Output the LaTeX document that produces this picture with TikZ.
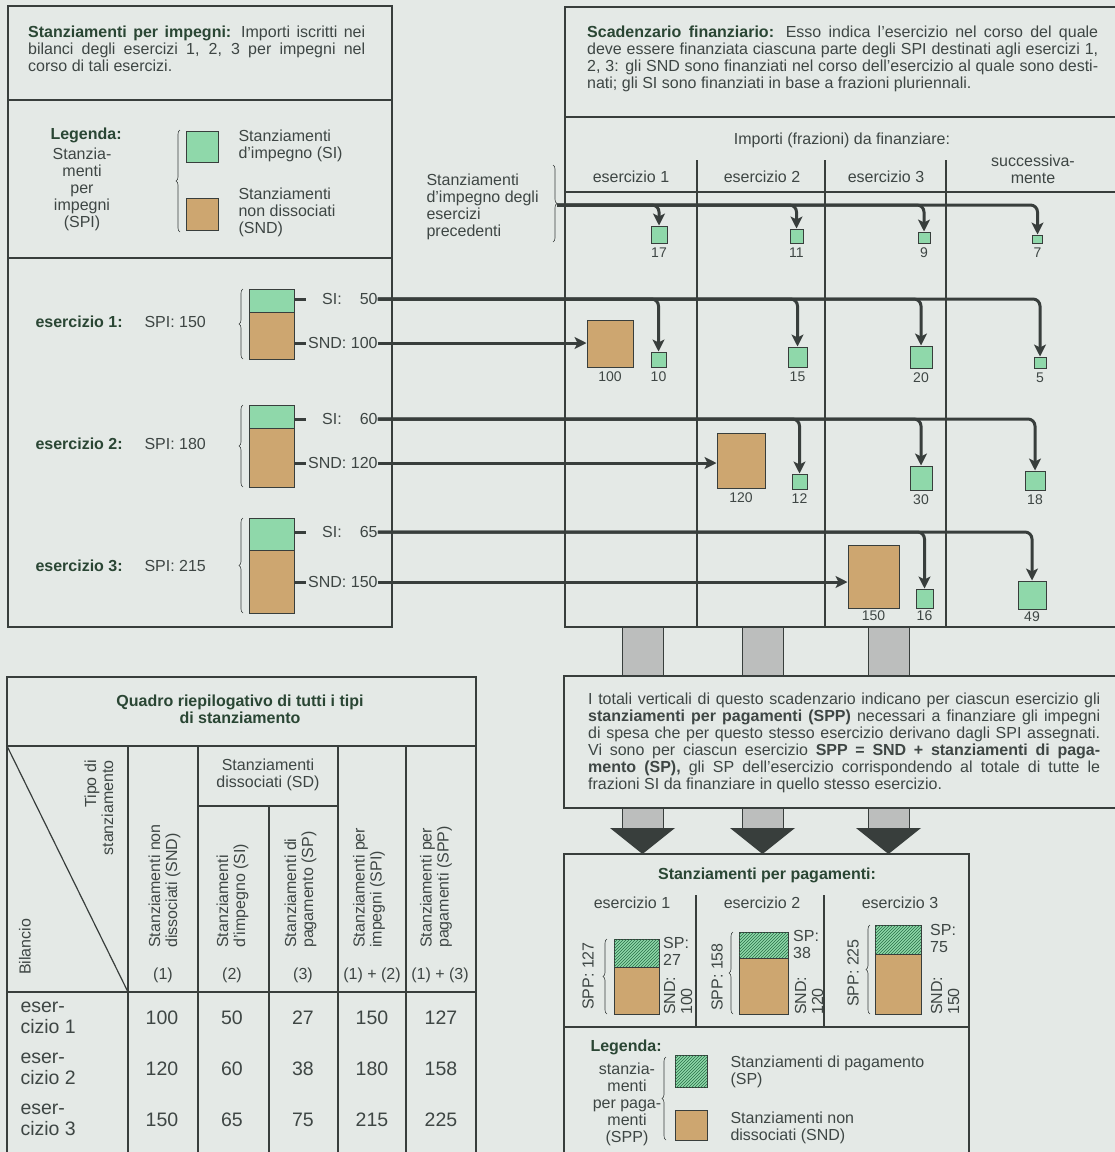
\documentclass[tikz,border=0pt]{standalone}
\usepackage{fontspec}
\setmainfont{Liberation Sans}
\usetikzlibrary{arrows.meta, positioning, decorations.pathreplacing, patterns}

\definecolor{paper}{RGB}{228,233,230}
\definecolor{ink}{RGB}{56,62,60}
\definecolor{txt}{RGB}{62,70,68}
\definecolor{headtxt}{RGB}{42,70,52}
\definecolor{sigreen}{RGB}{143,216,170}
\definecolor{sndtan}{RGB}{205,166,112}
\definecolor{hatch}{RGB}{40,110,70}
\definecolor{bargrey}{RGB}{188,190,189}

\newcommand{\jline}[2]{\makebox[#1][s]{#2}}

\begin{document}
\begin{tikzpicture}[
    x = 1pt, y = -1pt,
    every node/.style = {text = txt, font = \fontsize{16}{17}\selectfont},
    panel/.style = {draw = ink, line width = 1.2pt},
    heavy/.style = {draw = ink, line width = 2.6pt},
    siblock/.style = {draw = ink, line width = 1pt, fill = sigreen, inner sep = 0pt},
    sndblock/.style = {draw = ink, line width = 1pt, fill = sndtan, inner sep = 0pt},
    spblock/.style = {siblock,
      postaction = {pattern = north east lines, pattern color = hatch}},
    flow/.style = {draw = ink, line width = 3pt, rounded corners = 7pt,
      -{Stealth[length = 12pt, width = 12pt, inset = 3pt]}},
    stub/.style = {draw = ink, line width = 3pt},
    brace/.style = {draw = ink, line width = 0.6pt, decorate,
      decoration = {brace, amplitude = 4pt}},
    bar/.style = {draw = ink, line width = 1pt, fill = bargrey},
    head/.style = {text = headtxt, font = \bfseries\fontsize{16}{17}\selectfont},
    amount/.style = {font = \fontsize{14}{15}\selectfont, inner sep = 1pt},
    big/.style = {font = \fontsize{19.5}{21}\selectfont},
    ]

    \useasboundingbox (0, 0) rectangle (1115, 1152);
    \fill [paper] (0, 0) rectangle (1115, 1152);

    % grey transfer bars
    \draw [bar] (622, 627) rectangle (663, 676);
    \draw [bar] (742, 627) rectangle (783, 676);
    \draw [bar] (868, 627) rectangle (909, 676);
    \draw [bar] (622, 808) rectangle (663, 828);
    \draw [bar] (742, 808) rectangle (783, 828);
    \draw [bar] (868, 808) rectangle (909, 828);
    \fill [ink] (610, 828) -- (675, 828) -- (642.5, 854) -- cycle;
    \fill [ink] (730, 828) -- (795, 828) -- (762.5, 854) -- cycle;
    \fill [ink] (856, 828) -- (921, 828) -- (888.5, 854) -- cycle;

    % panels
    \draw [panel] (8, 6) rectangle (392, 627);
    \draw [panel] (8, 100) -- (392, 100);
    \draw [panel] (8, 258) -- (392, 258);

    \draw [panel] (1125, 7) -- (565, 7) -- (565, 627) -- (1125, 627);
    \draw [panel] (565, 117) -- (1125, 117);
    \draw [panel] (565, 192) -- (1125, 192);
    \draw [panel] (697, 160) -- (697, 627);
    \draw [panel] (825, 160) -- (825, 627);
    \draw [panel] (946, 160) -- (946, 627);

    \draw [panel] (1125, 676) -- (564, 676) -- (564, 808) -- (1125, 808);

    \draw [panel] (564, 1160) -- (564, 854) -- (969, 854) -- (969, 1160);
    \draw [panel] (564, 1027) -- (969, 1027);
    \draw [panel] (696, 895) -- (696, 1027);
    \draw [panel] (824, 895) -- (824, 1027);

    \draw [panel] (7, 1160) -- (7, 677) -- (476, 677) -- (476, 1160);
    \draw [heavy] (7, 746) -- (476, 746);
    \draw [heavy] (7, 992) -- (476, 992);
    \draw [heavy] (128, 746) -- (128, 1160);
    \draw [panel] (198, 746) -- (198, 1160);
    \draw [panel] (338, 746) -- (338, 1160);
    \draw [panel] (406, 746) -- (406, 1160);
    \draw [panel] (198, 806) -- (338, 806);
    \draw [panel] (269, 806) -- (269, 1160);
    \draw [panel] (7, 746) -- (128, 992);

    % top left: text and legend
    \node at (28, 26) [anchor = north west, align = left, inner sep = 0pt, name = spitext]
    {\jline{337pt}{\textcolor{headtxt}{\textbf{Stanziamenti per impegni:}} Importi iscritti nei}\\
      \jline{337pt}{bilanci degli esercizi 1, 2, 3 per impegni nel}\\
      corso di tali esercizi.};

    \node at (47, 135) [anchor = west, head, name = legspi] {Legenda:};
    \node at (82, 189) [align = center, name = spiname]
    {Stanzia-\\menti\\per\\impegni\\(SPI)};
    \draw [brace] (180, 232) -- (180, 130);
    \node at (202, 146.5) [siblock, minimum width = 32pt, minimum height = 31pt,
      name = keySI] {};
    \node at (202, 214) [sndblock, minimum width = 32pt, minimum height = 32pt,
      name = keySND] {};
    \node at (235, 146) [anchor = west, align = left] {Stanziamenti\\d'impegno (SI)};
    \node at (235, 212) [anchor = west, align = left]
    {Stanziamenti\\non dissociati\\(SND)};

    % budget years
    \node at (32, 322) [anchor = west, head, name = es1] {esercizio 1:};
    \node at (141, 322) [anchor = west, name = spi1] {SPI: 150};
    \node at (271.5, 300.5) [siblock, minimum width = 45pt, minimum height = 23pt,
      name = blSI1] {};
    \node at (271.5, 335.5) [sndblock, minimum width = 45pt, minimum height = 47pt,
      name = blSND1] {};
    \draw [brace] (243, 359) -- (243, 289);
    \node at (306, 299) [anchor = west, inner sep = 0pt, name = si1]
    {\hspace{16pt}SI:\hspace{18pt}50};
    \node at (306, 343) [anchor = west, inner sep = 0pt, name = snd1]
    {\hspace{2pt}SND: 100};

    \node at (32, 444) [anchor = west, head, name = es2] {esercizio 2:};
    \node at (141, 444) [anchor = west, name = spi2] {SPI: 180};
    \node at (271.5, 416.5) [siblock, minimum width = 45pt, minimum height = 23pt,
      name = blSI2] {};
    \node at (271.5, 457.5) [sndblock, minimum width = 45pt, minimum height = 59pt,
      name = blSND2] {};
    \draw [brace] (243, 487) -- (243, 405);
    \node at (306, 419) [anchor = west, inner sep = 0pt, name = si2]
    {\hspace{16pt}SI:\hspace{18pt}60};
    \node at (306, 463) [anchor = west, inner sep = 0pt, name = snd2]
    {\hspace{2pt}SND: 120};

    \node at (32, 566) [anchor = west, head, name = es3] {esercizio 3:};
    \node at (141, 566) [anchor = west, name = spi3] {SPI: 215};
    \node at (271.5, 534) [siblock, minimum width = 45pt, minimum height = 32pt,
      name = blSI3] {};
    \node at (271.5, 581.5) [sndblock, minimum width = 45pt, minimum height = 63pt,
      name = blSND3] {};
    \draw [brace] (243, 613) -- (243, 518);
    \node at (306, 532) [anchor = west, inner sep = 0pt, name = si3]
    {\hspace{16pt}SI:\hspace{18pt}65};
    \node at (306, 582) [anchor = west, inner sep = 0pt, name = snd3]
    {\hspace{2pt}SND: 150};

    \draw [stub] (blSI1.east |- si1.west) -- (si1.west);
    \draw [stub] (blSND1.east |- snd1.west) -- (snd1.west);
    \draw [stub] (blSI2.east |- si2.west) -- (si2.west);
    \draw [stub] (blSND2.east |- snd2.west) -- (snd2.west);
    \draw [stub] (blSI3.east |- si3.west) -- (si3.west);
    \draw [stub] (blSND3.east |- snd3.west) -- (snd3.west);

    % schedule
    \node at (587, 26) [anchor = north west, align = left, inner sep = 0pt,
      name = scadtext]
    {\jline{511pt}{\textcolor{headtxt}{\textbf{Scadenzario finanziario:}} Esso indica l'esercizio nel corso del quale}\\
      \jline{511pt}{deve essere finanziata ciascuna parte degli SPI destinati agli esercizi 1,}\\
      \jline{511pt}{2, 3: gli SND sono finanziati nel corso dell'esercizio al quale sono desti-}\\
      nati; gli SI sono finanziati in base a frazioni pluriennali.};

    \node at (842, 140) [name = importi] {Importi (frazioni) da finanziare:};
    \node at (631, 177) [name = col1] {esercizio 1};
    \node at (762, 177) [name = col2] {esercizio 2};
    \node at (886, 177) [name = col3] {esercizio 3};
    \node at (1033, 169) [align = center, name = col4] {successiva-\\mente};

    \node at (423, 207) [anchor = west, align = left, name = prevtext]
    {Stanziamenti\\d'impegno degli\\esercizi\\precedenti};
    \draw [brace] (553, 165) -- (553, 242);
    \coordinate (prev) at (557, 205);

    \node at (659, 234.5) [siblock, minimum width = 16pt, minimum height = 17pt,
      name = pr1] {};
    \node at (796.5, 236) [siblock, minimum width = 13pt, minimum height = 14pt,
      name = pr2] {};
    \node at (924, 237.5) [siblock, minimum width = 12pt, minimum height = 11pt,
      name = pr3] {};
    \node at (1037.5, 239) [siblock, minimum width = 10pt, minimum height = 8pt,
      name = pr4] {};
    \node [amount, below = 3pt of pr1] {17};
    \node [amount, below = 3pt of pr2] {11};
    \node [amount, below = 3pt of pr3] {9};
    \node [amount, below = 3pt of pr4] {7};

    \node at (610, 343.5) [sndblock, minimum width = 46pt, minimum height = 47pt,
      name = nd1] {};
    \node at (658.5, 359.5) [siblock, minimum size = 15pt, name = fr11] {};
    \node at (797.5, 357) [siblock, minimum width = 19pt, minimum height = 20pt,
      name = fr12] {};
    \node at (921, 357) [siblock, minimum size = 22pt, name = fr13] {};
    \node at (1040, 362.5) [siblock, minimum width = 12pt, minimum height = 11pt,
      name = fr14] {};
    \node [amount, below = 3pt of nd1] {100};
    \node [amount, below = 3pt of fr11] {10};
    \node [amount, below = 3pt of fr12] {15};
    \node [amount, below = 3pt of fr13] {20};
    \node [amount, below = 3pt of fr14] {5};

    \node at (741, 460.5) [sndblock, minimum width = 48pt, minimum height = 55pt,
      name = nd2] {};
    \node at (799.5, 481.5) [siblock, minimum size = 15pt, name = fr21] {};
    \node at (921, 478) [siblock, minimum width = 22pt, minimum height = 24pt,
      name = fr22] {};
    \node at (1035, 480.5) [siblock, minimum width = 20pt, minimum height = 19pt,
      name = fr23] {};
    \node [amount, below = 3pt of nd2] {120};
    \node [amount, below = 3pt of fr21] {12};
    \node [amount, below = 3pt of fr22] {30};
    \node [amount, below = 3pt of fr23] {18};

    \node at (873.5, 576.5) [sndblock, minimum width = 51pt, minimum height = 63pt,
      name = nd3] {};
    \node at (924.5, 598.5) [siblock, minimum width = 17pt, minimum height = 19pt,
      name = fr31] {};
    \node at (1032, 595) [siblock, minimum size = 28pt, name = fr32] {};
    \node [amount, below = 1pt of nd3] {150};
    \node [amount, below = 1pt of fr31] {16};
    \node [amount, below = 1pt of fr32] {49};

    \draw [flow] (prev) -| (pr1.north);
    \draw [flow] (prev) -| (pr2.north);
    \draw [flow] (prev) -| (pr3.north);
    \draw [flow] (prev) -| (pr4.north);

    \draw [flow] (si1.east) -| (fr11.north);
    \draw [flow] (si1.east) -| (fr12.north);
    \draw [flow] (si1.east) -| (fr13.north);
    \draw [flow] (si1.east) -| (fr14.north);
    \draw [flow] (snd1.east) -- (snd1.east -| nd1.west);

    \draw [flow] (si2.east) -| (fr21.north);
    \draw [flow] (si2.east) -| (fr22.north);
    \draw [flow] (si2.east) -| (fr23.north);
    \draw [flow] (snd2.east) -- (snd2.east -| nd2.west);

    \draw [flow] (si3.east) -| (fr31.north);
    \draw [flow] (si3.east) -| (fr32.north);
    \draw [flow] (snd3.east) -- (snd3.east -| nd3.west);

    % vertical totals
    \node at (588, 693) [anchor = north west, align = left, inner sep = 0pt,
      name = totaltext]
    {\jline{512pt}{I totali verticali di questo scadenzario indicano per ciascun esercizio gli}\\
      \jline{512pt}{\textbf{stanziamenti per pagamenti (SPP)} necessari a finanziare gli impegni}\\
      \jline{512pt}{di spesa che per questo stesso esercizio derivano dagli SPI assegnati.}\\
      \jline{512pt}{Vi sono per ciascun esercizio \textbf{SPP = SND + stanziamenti di paga-}}\\
      \jline{512pt}{\textbf{mento (SP),} gli SP dell'esercizio corrispondendo al totale di tutte le}\\
      frazioni SI da finanziare in quello stesso esercizio.};

    % payment appropriations
    \node at (767, 875) [head, name = pagtitle] {Stanziamenti per pagamenti:};
    \node at (632, 903) [name = pcol1] {esercizio 1};
    \node at (762, 903) [name = pcol2] {esercizio 2};
    \node at (900, 903) [name = pcol3] {esercizio 3};

    \node at (636.5, 953) [spblock, minimum width = 45pt, minimum height = 28pt,
      name = pSP1] {};
    \node at (636.5, 990.5) [sndblock, minimum width = 45pt, minimum height = 47pt,
      name = pSND1] {};
    \node at (763.5, 945) [spblock, minimum width = 49pt, minimum height = 26pt,
      name = pSP2] {};
    \node at (763.5, 986) [sndblock, minimum width = 49pt, minimum height = 56pt,
      name = pSND2] {};
    \node at (898, 939.5) [spblock, minimum width = 46pt, minimum height = 29pt,
      name = pSP3] {};
    \node at (898, 984) [sndblock, minimum width = 46pt, minimum height = 60pt,
      name = pSND3] {};

    \draw [brace] (607, 1014) -- (607, 939);
    \draw [brace] (733, 1014) -- (733, 932);
    \draw [brace] (870, 1014) -- (870, 925);
    \node at (588, 976) [rotate = 90] {SPP: 127};
    \node at (717, 977) [rotate = 90] {SPP: 158};
    \node at (853, 973) [rotate = 90] {SPP: 225};

    \node at (663, 937) [anchor = north west, align = left, inner sep = 0pt] {SP:\\27};
    \node at (793, 930) [anchor = north west, align = left, inner sep = 0pt] {SP:\\38};
    \node at (930, 924) [anchor = north west, align = left, inner sep = 0pt] {SP:\\75};
    \node at (678, 1015) [rotate = 90, anchor = west, align = left, inner sep = 0pt]
    {SND:\\100};
    \node at (809, 1015) [rotate = 90, anchor = west, align = left, inner sep = 0pt]
    {SND:\\120};
    \node at (945, 1015) [rotate = 90, anchor = west, align = left, inner sep = 0pt]
    {SND:\\150};

    \node at (587, 1047) [anchor = west, head, name = legspp] {Legenda:};
    \node at (627, 1104) [align = center, name = sppname]
    {stanzia-\\menti\\per paga-\\menti\\(SPP)};
    \draw [brace] (666, 1140) -- (666, 1057);
    \node at (691, 1071) [spblock, minimum size = 32pt, name = keySP] {};
    \node at (691, 1125) [sndblock, minimum width = 32pt, minimum height = 30pt,
      name = keySND2] {};
    \node at (727, 1072) [anchor = west, align = left]
    {Stanziamenti di pagamento\\(SP)};
    \node at (727, 1128) [anchor = west, align = left]
    {Stanziamenti non\\dissociati (SND)};

    % summary table
    \node at (240, 709) [head, align = center, name = quadro]
    {Quadro riepilogativo di tutti i tipi\\di stanziamento};
    \node at (268, 775) [align = center] {Stanziamenti\\dissociati (SD)};
    \node at (99, 760) [rotate = 90, anchor = east, align = right, inner sep = 0pt]
    {Tipo di\\stanziamento};
    \node at (25, 975) [rotate = 90, anchor = west, inner sep = 0pt] {Bilancio};

    \node at (164.5, 948) [rotate = 90, anchor = west, align = left, inner sep = 0pt]
    {Stanziamenti non\\dissociati (SND)};
    \node at (232.5, 948) [rotate = 90, anchor = west, align = left, inner sep = 0pt]
    {Stanziamenti\\d'impegno (SI)};
    \node at (300.5, 948) [rotate = 90, anchor = west, align = left, inner sep = 0pt]
    {Stanziamenti di\\pagamento (SP)};
    \node at (369, 948) [rotate = 90, anchor = west, align = left, inner sep = 0pt]
    {Stanziamenti per\\impegni (SPI)};
    \node at (436, 948) [rotate = 90, anchor = west, align = left, inner sep = 0pt]
    {Stanziamenti per\\pagamenti (SPP)};

    \node at (163, 975) {(1)};
    \node at (232, 975) {(2)};
    \node at (303, 975) {(3)};
    \node at (372, 975) {(1) + (2)};
    \node at (440, 975) {(1) + (3)};

    \node at (17, 1018) [anchor = west, big, align = left] {eser-\\cizio 1};
    \node at (17, 1069) [anchor = west, big, align = left] {eser-\\cizio 2};
    \node at (17, 1120) [anchor = west, big, align = left] {eser-\\cizio 3};

    \node at (162, 1018) [big] {100};
    \node at (232, 1018) [big] {50};
    \node at (303, 1018) [big] {27};
    \node at (372, 1018) [big] {150};
    \node at (441, 1018) [big] {127};

    \node at (162, 1069) [big] {120};
    \node at (232, 1069) [big] {60};
    \node at (303, 1069) [big] {38};
    \node at (372, 1069) [big] {180};
    \node at (441, 1069) [big] {158};

    \node at (162, 1120) [big] {150};
    \node at (232, 1120) [big] {65};
    \node at (303, 1120) [big] {75};
    \node at (372, 1120) [big] {215};
    \node at (441, 1120) [big] {225};
  \end{tikzpicture}
\end{document}
